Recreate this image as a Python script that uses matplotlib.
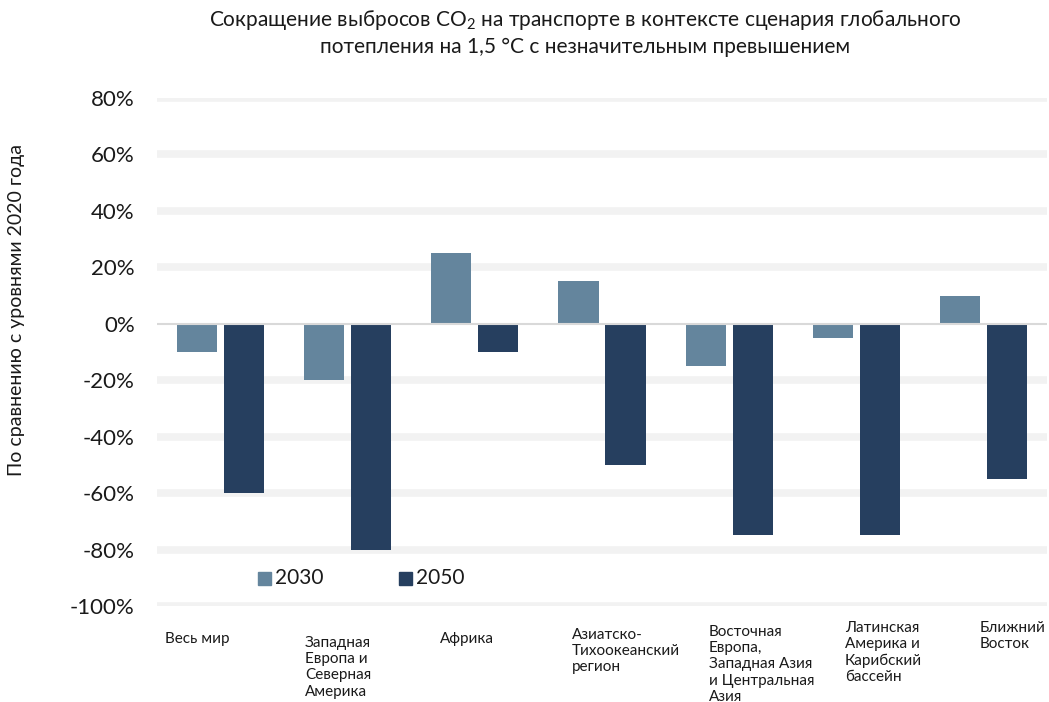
import matplotlib
matplotlib.use("Agg")
import matplotlib.pyplot as plt
from matplotlib.patches import Rectangle
import numpy as np

plt.rcParams['font.family'] = ['Lato', 'DejaVu Sans']
plt.rcParams['mathtext.fontset'] = 'custom'
plt.rcParams['mathtext.rm'] = 'Lato'
plt.rcParams['mathtext.it'] = 'Lato'

categories = [
    "Весь мир",
    "Западная\nЕвропа и\nСеверная\nАмерика",
    "Африка",
    "Азиатско-\nТихоокеанский\nрегион",
    "Восточная\nЕвропа,\nЗападная Азия\nи Центральная\nАзия",
    "Латинская\nАмерика и\nКарибский\nбассейн",
    "Ближний\nВосток",
]
values_2030 = [-10, -20, 25, 15, -15, -5, 10]
values_2050 = [-60, -80, -10, -50, -75, -75, -55]
series_names = ["2030", "2050"]
y_ticks = [80, 60, 40, 20, 0, -20, -40, -60, -80, -100]

color_2030 = "#64859d"
color_2050 = "#263f5f"

W, H = 1049, 702
fig = plt.figure(figsize=(W / 100, H / 100), dpi=100)
ax = fig.add_axes([157 / W, 96 / H, 890 / W, 508 / H])

x = np.arange(len(categories))
bw = 0.315
off = 0.185
ax.bar(x - off, values_2030, width=bw, color=color_2030, zorder=2)
ax.bar(x + off, values_2050, width=bw, color=color_2050, zorder=2)

for t in y_ticks:
    if t == 0:
        ax.axhline(0, color="#d9d9d9", lw=1.5, zorder=3)
    else:
        ax.axhline(t, color="#f2f2f2", lw=5.5, zorder=1, solid_capstyle="butt")

ax.set_xlim(-0.5, len(categories) - 0.5)
ax.set_ylim(-100, 80)
ax.set_yticks(y_ticks)
ax.set_yticklabels([f"{t}%" for t in y_ticks], fontsize=16, color="#1a1a1a")
ax.tick_params(axis="y", length=0, pad=16)
ax.set_xticks([])
for s in ax.spines.values():
    s.set_visible(False)

# category labels under the plot, left aligned
label_px = [(165, 632), (305, 636), (440, 632), (572, 628), (709, 625), (845, 621), (980, 621)]
for (px, py), lab in zip(label_px, categories):
    fig.text(px / W, 1 - py / H, lab, ha="left", va="top", fontsize=11,
             color="#1a1a1a", linespacing=1.2)

# title
fig.text(585 / W, 1 - 20 / H, "Сокращение выбросов CO$_2$ на транспорте в контексте сценария глобального",
         ha="center", va="center", fontsize=15, color="#1a1a1a")
fig.text(585 / W, 1 - 47 / H, "потепления на 1,5 °С с незначительным превышением",
         ha="center", va="center", fontsize=15, color="#1a1a1a")

# y-axis title
fig.text(17 / W, 1 - 310 / H, "По сравнению с уровнями 2020 года", rotation=90,
         ha="center", va="center", fontsize=14, color="#1a1a1a")

# legend
for (sx, name, col) in [(258, series_names[0], color_2030), (399, series_names[1], color_2050)]:
    fig.patches.append(Rectangle((sx / W, 1 - 585 / H), 13 / W, 13 / H,
                                 transform=fig.transFigure, color=col))
    fig.text((sx + 17) / W, 1 - 578 / H, name, ha="left", va="center",
             fontsize=15, color="#1a1a1a")

fig.savefig("out.png", dpi=100)
